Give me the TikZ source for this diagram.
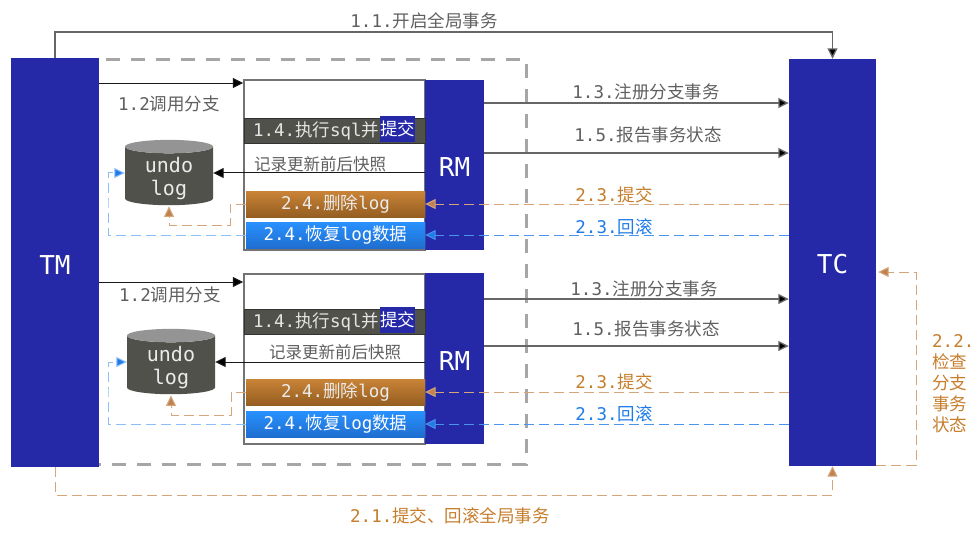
\documentclass[tikz,border=0pt]{standalone}
\usepackage{fontspec}
\setmainfont{DejaVu Sans Mono}
\newfontfamily\cjk{Noto Sans CJK SC}
\usetikzlibrary{arrows.meta,shapes.geometric,shadows}

\definecolor{deepblue}{HTML}{2529A8}
\definecolor{darkbar}{HTML}{50514A}
\definecolor{textgray}{HTML}{5F5F5F}
\definecolor{tantext}{HTML}{C67D2C}
\definecolor{tanline}{HTML}{D7A57A}
\definecolor{tantip}{HTML}{BF8150}
\definecolor{bluetext}{HTML}{1F7BE8}
\definecolor{blueline}{HTML}{8CBFFA}
\definecolor{bluefar}{HTML}{4A94EC}
\definecolor{resttop}{HTML}{2891FF}
\definecolor{restbot}{HTML}{1F6ECF}

\begin{document}
\begin{tikzpicture}[
  x=1pt, y=-1pt,
  block/.style={rectangle, fill=deepblue, text=white, inner sep=0pt, font=\fontsize{26}{30}\selectfont},
  frame/.style={rectangle, draw=black!55, line width=1.5pt, fill=white, minimum width=181pt, minimum height=170pt, drop shadow={opacity=0.25, shadow xshift=1pt, shadow yshift=-1pt}},
  execbar/.style={rectangle, draw=black!80, fill=darkbar, text=white!90!black, minimum width=181pt, minimum height=25pt, inner xsep=9pt, inner ysep=0pt, text width=163pt, align=left, font=\fontsize{17.5}{20}\selectfont, drop shadow={opacity=0.25, shadow xshift=1pt, shadow yshift=-1pt}},
  mark box/.style={rectangle, fill=deepblue, text=white, minimum width=35pt, minimum height=26pt, inner sep=0pt, font=\fontsize{17.5}{20}\selectfont},
  delbar/.style={rectangle, top color=tantext!95!white, bottom color=tantext!75!black, text=white!92!black, minimum width=179pt, minimum height=26pt, inner sep=0pt, font=\fontsize{17.5}{20}\selectfont, drop shadow={opacity=0.25, shadow xshift=1pt, shadow yshift=-1pt}},
  restorebar/.style={rectangle, top color=resttop, bottom color=restbot, text=white, minimum width=179pt, minimum height=26pt, inner sep=0pt, font=\fontsize{17.5}{20}\selectfont, drop shadow={opacity=0.25, shadow xshift=1pt, shadow yshift=-1pt}},
  logdb/.style={cylinder, shape border rotate=90, aspect=0.28, cylinder uses custom fill, cylinder body fill=darkbar, cylinder end fill=black!42, minimum width=88pt, minimum height=65pt, inner sep=0pt},
  logtext/.style={text=white!92!black, inner sep=0pt, align=center, font=\fontsize{20}{23}\selectfont},
  label/.style={text=textgray, inner sep=0pt, font=\fontsize{17.5}{20}\selectfont},
  tanlabel/.style={label, text=tantext},
  bluelabel/.style={label, text=bluetext},
  link/.style={draw=black!60, line width=1.4pt, -{Triangle[length=10.5pt,width=10pt,fill=black]}},
  call/.style={draw=black!90, line width=1pt, -{Triangle[length=10.5pt,width=10pt,fill=black]}},
  commit/.style={draw=tanline, line width=1pt, dash pattern=on 10pt off 5pt, -{Triangle[length=10.5pt,width=10pt,fill=tantip]}},
  rollback/.style={draw=blueline, line width=1pt, dash pattern=on 10pt off 5pt, -{Triangle[length=10.5pt,width=10pt,fill=bluetext]}},
  rollback far/.style={rollback, draw=bluefar}
]
\useasboundingbox (0,0) rectangle (980,533);

% Outer dashed area
\node[rectangle, draw=black!35, line width=3pt, dash pattern=on 14pt off 11pt, minimum width=489pt, minimum height=405pt] (area) at (281.5,261.5) {};

% Main blocks
\node[block, minimum width=88pt, minimum height=409pt] (TM) at (55,262.5) {\rule{0pt}{23pt}TM};
\node[block, minimum width=87pt, minimum height=407pt] (TC) at (832.5,262.5) {\rule{0pt}{23pt}TC};

% Branch 1
\node[frame] (boxa) at (334.5,165) {};
\node[block, minimum width=59pt, minimum height=170pt] (RMa) at (454.5,165) {\rule{0pt}{22pt}RM};
\node[execbar] (execa) at (334.5,130.5) {1.4.{\cjk 执行}sql{\cjk 并}};
\node[mark box] (marka) at (397.5,129) {\cjk 提交};
\node[delbar] (dela) at (335.5,204) {2.4.{\cjk 删除}log};
\node[restorebar] (resa) at (335.5,235) {2.4.{\cjk 恢复}log{\cjk 数据}};
\node[logdb] (dba) at (169,176) {\hspace*{48pt}\rule{0pt}{45pt}};
\node[logtext] (undoa) at (169,179) {undo\\log};

% Branch 2
\node[frame] (boxb) at (334.5,359) {};
\node[block, minimum width=59pt, minimum height=171pt] (RMb) at (454.5,358.5) {\rule{0pt}{24pt}RM};
\node[execbar] (execb) at (334.5,321.5) {1.4.{\cjk 执行}sql{\cjk 并}};
\node[mark box] (markb) at (397.5,320) {\cjk 提交};
\node[delbar] (delb) at (335.5,392) {2.4.{\cjk 删除}log};
\node[restorebar] (resb) at (335.5,424) {2.4.{\cjk 恢复}log{\cjk 数据}};
\node[logdb] (dbb) at (171,365) {\hspace*{48pt}\rule{0pt}{45pt}};
\node[logtext] (undob) at (171,368) {undo\\log};

% Bends
\coordinate (topbend) at (444,32);
\coordinate (botbend) at (444,495);
\coordinate (checkbend) at (916,400);
\coordinate (delbenda) at (230,225);
\coordinate (delbendb) at (231,415);
\coordinate (resbenda) at (108,200);
\coordinate (resbendb) at (108,390);

% Global transaction
\draw[link] (TM.north) |- (topbend) -| (TC.north);
\draw[commit] (TM.south) |- (botbend) -| (TC.south);
\draw[commit] ([yshift=-203pt]TC.east) -| (checkbend) |- ([xshift=2pt,yshift=-9.5pt]TC.east);

% Edges of branch 1
\draw[call] ([yshift=82pt]boxa.west -| TM.east) -- ([yshift=82pt]boxa.west);
\draw[link] ([yshift=62pt]RMa.east) -- ([yshift=62pt]RMa.east -| TC.west);
\draw[link] ([yshift=12pt]RMa.east) -- ([yshift=12pt]RMa.east -| TC.west);
\draw[call] ([yshift=3pt]dba.east -| RMa.west) -- ([yshift=3pt]dba.east);
\draw[commit] (dela.east -| TC.west) -- (dela.east);
\draw[rollback far] (resa.east -| TC.west) -- (resa.east);
\draw[commit] (dela.west) -| (delbenda) -| ([yshift=-1pt]dba.south);
\draw[rollback] (resa.west) -| (resbenda) |- ([yshift=3pt]dba.west);

% Edges of branch 2
\draw[call] ([yshift=77pt]boxb.west -| TM.east) -- ([yshift=77pt]boxb.west);
\draw[link] ([yshift=59.5pt]RMb.east) -- ([yshift=59.5pt]RMb.east -| TC.west);
\draw[link] ([yshift=12.5pt]RMb.east) -- ([yshift=12.5pt]RMb.east -| TC.west);
\draw[call] ([yshift=3pt]dbb.east -| RMb.west) -- ([yshift=3pt]dbb.east);
\draw[commit] (delb.east -| TC.west) -- (delb.east);
\draw[rollback far] (resb.east -| TC.west) -- (resb.east);
\draw[commit] (delb.west) -| (delbendb) -| ([yshift=-1pt]dbb.south);
\draw[rollback] (resb.west) -| (resbendb) |- ([yshift=3pt]dbb.west);

% Labels
\node[label] (l11) at (424,21) {1.1.{\cjk 开启全局事务}};
\node[label] (l12a) at (169,104) {1.2{\cjk 调用分支}};
\node[label] (l13a) at (646,92) {1.3.{\cjk 注册分支事务}};
\node[label] (l15a) at (648,135) {1.5.{\cjk 报告事务状态}};
\node[label, font=\fontsize{16.5}{20}\selectfont] (snapa) at (320,164) {\cjk 记录更新前后快照};
\node[tanlabel] (l23a) at (614,195) {2.3.{\cjk 提交}};
\node[bluelabel] (r23a) at (614,227) {2.3.{\cjk 回滚}};
\node[label] (l12b) at (170,295) {1.2{\cjk 调用分支}};
\node[label] (l13b) at (644,289) {1.3.{\cjk 注册分支事务}};
\node[label] (l15b) at (646,329) {1.5.{\cjk 报告事务状态}};
\node[label, font=\fontsize{16.5}{20}\selectfont] (snapb) at (335,352) {\cjk 记录更新前后快照};
\node[tanlabel] (l23b) at (614,382) {2.3.{\cjk 提交}};
\node[bluelabel] (r23b) at (614,414) {2.3.{\cjk 回滚}};
\node[tanlabel] (l21) at (450,516) {2.1.{\cjk 提交、回滚全局事务}};
\node[tanlabel, anchor=north west, align=left, font=\fontsize{17.5}{21}\selectfont] (l22) at (932,334) {2.2.\\{\cjk 检查}\\{\cjk 分支}\\{\cjk 事务}\\{\cjk 状态}};

\end{tikzpicture}
\end{document}
